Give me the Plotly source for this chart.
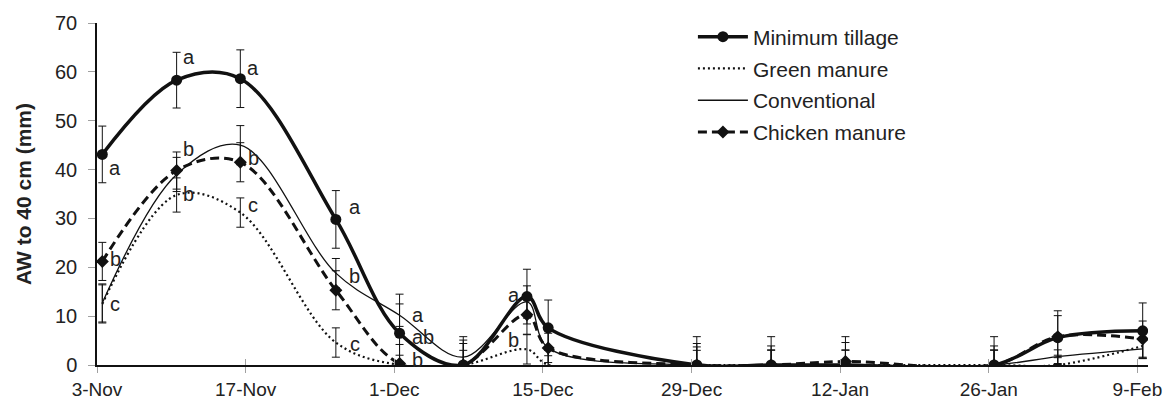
import pandas as pd
import plotly.graph_objects as go

# ---- data ----
dates = ["2009-11-03", "2009-11-10", "2009-11-16", "2009-11-25", "2009-12-01",
         "2009-12-07", "2009-12-13", "2009-12-15", "2009-12-29", "2010-01-05",
         "2010-01-12", "2010-01-26", "2010-02-01", "2010-02-09"]

min_tillage = [43.1, 58.3, 58.6, 29.8, 6.5, 0.0, 14.0, 7.6, 0.0, 0.0, 0.0, 0.0, 5.6, 7.0]
min_tillage_err = [5.8, 5.7, 5.9, 5.9, 8.0, 5.8, 5.6, 5.7, 5.8, 5.8, 5.8, 5.8, 5.5, 5.7]

green_manure = [12.5, 34.8, 31.2, 4.6, 0.0, 0.0, 3.2, 0.0, 0.0, 0.0, 0.0, 0.0, 0.0, 3.9]
green_manure_err = [3.9, 3.5, 3.0, 3.0, 2.0, 3.0, 3.0, 3.0, 3.0, 3.0, 3.0, 3.0, 2.0, 2.5]

conventional = [12.7, 39.0, 45.0, 18.8, 10.2, 1.6, 12.9, 3.5, 0.0, 0.0, 0.0, 0.0, 1.7, 3.3]
conventional_err = [3.9, 3.5, 4.0, 3.0, 2.3, 3.5, 3.3, 3.0, 3.7, 3.1, 3.1, 3.1, 1.4, 1.9]

chicken_manure = [21.2, 39.8, 41.5, 15.3, 0.3, 0.0, 10.3, 3.5, 0.0, 0.0, 0.7, 0.0, 5.8, 5.3]
chicken_manure_err = [3.9, 3.8, 4.0, 4.0, 3.9, 4.4, 4.0, 4.0, 4.4, 3.9, 3.9, 3.9, 4.3, 3.7]

tick_dates = ["2009-11-03", "2009-11-17", "2009-12-01", "2009-12-15",
              "2009-12-29", "2010-01-12", "2010-01-26", "2010-02-09"]
tick_labels = ["3-Nov", "17-Nov", "1-Dec", "15-Dec", "29-Dec", "12-Jan", "26-Jan", "9-Feb"]

# significance letters: (date index, letter, y level)
sig_index = [0, 0, 0, 1, 1, 1, 2, 2, 2, 3, 3, 3, 4, 4, 4, 6, 6]
sig_text = ["a", "b", "c", "a", "b", "b", "a", "b", "c", "a", "b", "c", "a", "ab", "b", "a", "b"]
sig_y = [40.3, 21.7, 12.5, 63.0, 44.2, 35.0, 60.8, 42.3, 32.7, 32.4, 18.3, 4.4,
         10.2, 5.8, 1.0, 14.3, 5.1]
sig_shift = [13, 13, 13, 12, 12, 12, 13, 13, 13, 19, 19, 19, 18, 23, 18, -13, -13]

# Excel date axis centres each daily point on its day
x = pd.to_datetime(dates) + pd.Timedelta(hours=12)

FONT = "Liberation Sans, Arial, sans-serif"
INK = "#111111"
TXT = "#222222"

fig = go.Figure()

err_style = dict(type="data", color=INK, thickness=1, width=4, visible=True)

fig.add_trace(go.Scatter(
    x=x, y=conventional, name="Conventional", mode="lines",
    line=dict(color=INK, width=1.3, shape="spline", smoothing=1.0),
    error_y=dict(array=conventional_err, **err_style),
    legendrank=3, legendgroup="c"))

fig.add_trace(go.Scatter(
    x=x, y=green_manure, name="Green manure", mode="lines",
    line=dict(color=INK, width=2.2, dash="2px,3px", shape="spline", smoothing=1.0),
    error_y=dict(array=green_manure_err, **err_style),
    legendrank=2, legendgroup="g"))

fig.add_trace(go.Scatter(
    x=x, y=chicken_manure, name="Chicken manure", mode="lines+markers",
    line=dict(color=INK, width=3, dash="9px,5px", shape="spline", smoothing=1.0),
    marker=dict(symbol="diamond", size=10, color=INK),
    error_y=dict(array=chicken_manure_err, **err_style),
    legendrank=4, legendgroup="k"))

fig.add_trace(go.Scatter(
    x=x, y=min_tillage, name="Minimum tillage", mode="lines+markers",
    line=dict(color=INK, width=3.5, shape="spline", smoothing=1.0),
    marker=dict(symbol="circle", size=11, color=INK),
    error_y=dict(array=min_tillage_err, **err_style),
    legendrank=1, legendgroup="m"))

# empty helper trace so the overlay axis (upper half of the cross ticks) is drawn
fig.add_trace(go.Scatter(x=[], y=[], xaxis="x2", showlegend=False, hoverinfo="skip"))

for i, t, yv, sh in zip(sig_index, sig_text, sig_y, sig_shift):
    fig.add_annotation(x=x[i], y=yv, text=t, showarrow=False, xshift=sh,
                       xanchor="center", yanchor="middle",
                       font=dict(family=FONT, size=20, color=TXT))

xrange = ["2009-11-03", "2010-02-10"]

# the page body has an 8px margin, so the figure is sized to fit the window
fig.update_layout(
    width=1163, height=393,
    margin=dict(l=89, r=23, t=15, b=36, autoexpand=False),
    paper_bgcolor="white", plot_bgcolor="white",
    font=dict(family=FONT, color=TXT),
    showlegend=True,
    legend=dict(x=0.567, y=1.019, xanchor="left", yanchor="top",
                bgcolor="rgba(0,0,0,0)", font=dict(family=FONT, size=21, color=TXT),
                tracegroupgap=1.5, itemwidth=50),
    xaxis=dict(
        type="date", range=xrange, tickmode="array",
        tickvals=tick_dates, ticktext=tick_labels, automargin=False,
        showgrid=False, zeroline=False,
        showline=True, linecolor=INK, linewidth=1.5,
        ticks="outside", ticklen=6, tickcolor="#a0a0a0", tickwidth=1,
        tickfont=dict(family=FONT, size=19, color=TXT),
        ticklabelstandoff=0,
    ),
    xaxis2=dict(
        type="date", range=xrange, overlaying="x", matches="x", anchor="y",
        tickmode="array", tickvals=tick_dates, showticklabels=False, automargin=False,
        showgrid=False, zeroline=False, showline=False,
        ticks="inside", ticklen=6, tickcolor="#a0a0a0", tickwidth=1,
    ),
    yaxis=dict(
        range=[0, 70], tickmode="array", tickvals=[0, 10, 20, 30, 40, 50, 60, 70],
        automargin=False,
        showgrid=False, zeroline=False,
        showline=True, linecolor=INK, linewidth=1.5,
        ticks="outside", ticklen=7, tickcolor="#a0a0a0", tickwidth=1,
        tickfont=dict(family=FONT, size=20, color=TXT),
        ticklabelstandoff=7,
        title=dict(text="<b>AW to 40 cm (mm)</b>", standoff=18,
                   font=dict(family=FONT, size=21, color=TXT)),
    ),
)

fig.write_html("out.html")
